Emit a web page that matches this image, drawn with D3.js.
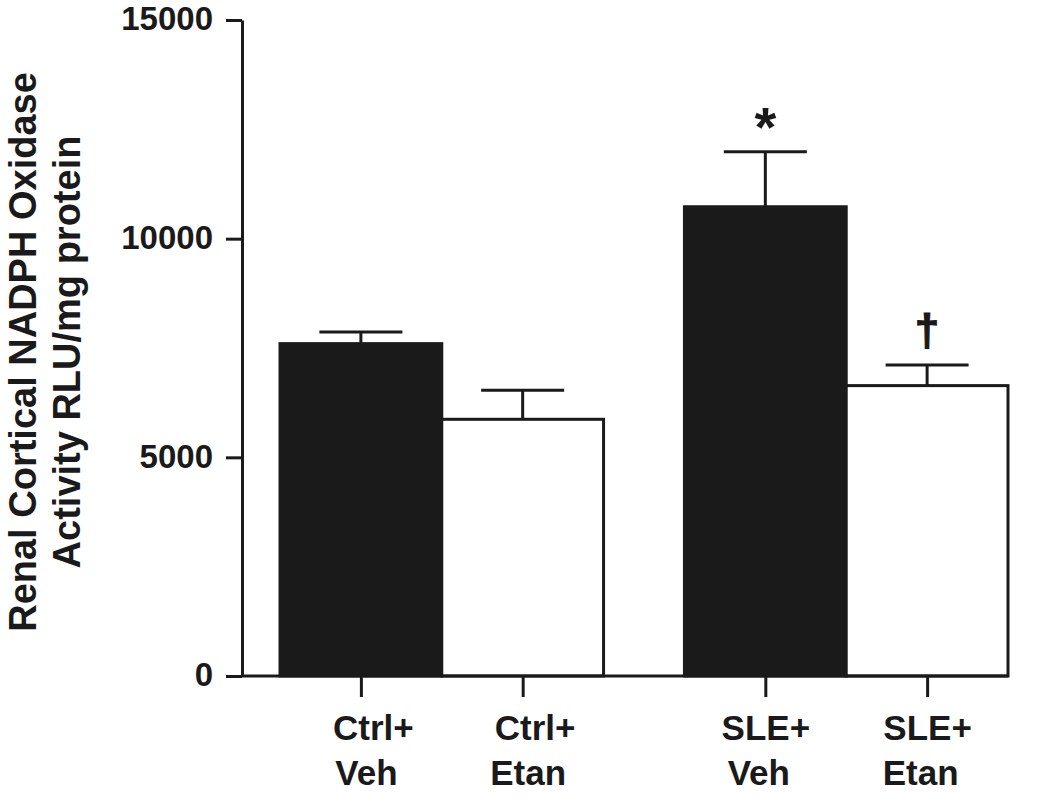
<!DOCTYPE html>
<html>
<head>
<meta charset="utf-8">
<script src="https://cdn.jsdelivr.net/npm/d3@7"></script>
<style>
  html, body { margin: 0; padding: 0; background: #fff; }
  svg { display: block; }
  text { font-family: "Liberation Sans", Arial, Helvetica, sans-serif; font-weight: bold; fill: #1a1a1a; }
</style>
</head>
<body>
<svg id="chart" width="1050" height="799"></svg>
<script>
// ---- data ----
const groups = ["Ctrl", "SLE"];
const treatments = ["Veh", "Etan"];
const categories = ["Ctrl+Veh", "Ctrl+Etan", "SLE+Veh", "SLE+Etan"];
const means = [7600, 5870, 10730, 6640];
const sems = [265, 665, 1260, 470];
const markers = ["", "", "*", "\u2020"];
const yTicks = [0, 5000, 10000, 15000];
const yTitle = ["Renal Cortical NADPH Oxidase", "Activity RLU/mg protein"];

const rows = categories.map((c, i) => {
  const [g, t] = c.split("+");
  return { cat: c, group: g, treat: t, mean: means[i], sem: sems[i], mark: markers[i] };
});

// ---- layout ----
const svg = d3.select("#chart");
const ink = "#1a1a1a";
const axisX = 242, y0 = 676, yTop = 20;
const plotLeft = 280, plotRight = 1008;

const y = d3.scaleLinear().domain([0, 15000]).range([y0, yTop]);
const xOuter = d3.scaleBand().domain(groups).range([plotLeft, plotRight]).paddingInner(0.2).paddingOuter(0);
const xInner = d3.scaleBand().domain(treatments).range([0, xOuter.bandwidth()]).padding(0);
const xLeft = d => xOuter(d.group) + xInner(d.treat);
const xCenter = d => xLeft(d) + xInner.bandwidth() / 2;
const xAxisScale = d3.scaleOrdinal().domain(categories).range(rows.map(xCenter));

// ---- bars ----
svg.append("g").selectAll("rect").data(rows).join("rect")
  .attr("x", d => xLeft(d))
  .attr("y", d => y(d.mean))
  .attr("width", xInner.bandwidth())
  .attr("height", d => y(0) - y(d.mean))
  .attr("fill", d => d.treat === "Veh" ? ink : "#ffffff")
  .attr("stroke", ink)
  .attr("stroke-width", 3);

// ---- error bars ----
const capHalf = 41.5;
const eb = svg.append("g").attr("stroke", ink).attr("stroke-width", 3);
eb.selectAll("line.v").data(rows).join("line").attr("class", "v")
  .attr("x1", xCenter).attr("x2", xCenter)
  .attr("y1", d => y(d.mean)).attr("y2", d => y(d.mean + d.sem));
eb.selectAll("line.c").data(rows).join("line").attr("class", "c")
  .attr("x1", d => xCenter(d) - capHalf).attr("x2", d => xCenter(d) + capHalf)
  .attr("y1", d => y(d.mean + d.sem)).attr("y2", d => y(d.mean + d.sem));

// ---- significance markers ----
svg.append("g").selectAll("text").data(rows.filter(d => d.mark)).join("text")
  .attr("x", xCenter)
  .attr("y", d => d.mark === "*" ? y(d.mean + d.sem) - 6 : y(d.mean + d.sem) - 20)
  .attr("text-anchor", "middle")
  .attr("font-size", d => d.mark === "*" ? 56 : 44)
  .attr("stroke", d => d.mark === "*" ? "none" : ink)
  .attr("stroke-width", 1.2)
  .text(d => d.mark);

// ---- y axis ----
const yAxis = svg.append("g").attr("transform", `translate(${axisX},0)`)
  .call(d3.axisLeft(y).tickValues(yTicks).tickFormat(d3.format("d")).tickSize(16).tickSizeOuter(0).tickPadding(13));
yAxis.attr("font-family", null);
yAxis.select(".domain").attr("stroke", ink).attr("stroke-width", 3);
yAxis.selectAll(".tick line").attr("stroke", ink).attr("stroke-width", 3);
yAxis.selectAll(".tick text").attr("font-size", 33).attr("fill", ink).attr("dy", "0.3em");

// ---- x axis ----
const labelShift = { Ctrl: 12, SLE: 0 };
const xAxis = svg.append("g").attr("transform", `translate(0,${y0})`)
  .call(d3.axisBottom(xAxisScale).tickSize(21).tickSizeOuter(0));
xAxis.attr("font-family", null);
xAxis.select(".domain").remove();
xAxis.append("line").attr("x1", axisX).attr("x2", plotRight).attr("y1", 0).attr("y2", 0)
  .attr("stroke", ink).attr("stroke-width", 3);
xAxis.selectAll(".tick line").attr("stroke", ink).attr("stroke-width", 3);
xAxis.selectAll(".tick text").each(function(c) {
  const [g, t] = c.split("+");
  const txt = d3.select(this).text(null).attr("y", null).attr("dy", null)
    .attr("font-size", 35).attr("fill", ink).attr("text-anchor", "middle");
  txt.append("tspan").attr("x", labelShift[g]).attr("y", 64).text(g + "+");
  txt.append("tspan").attr("x", labelShift[g] - 7).attr("y", 109).text(t);
});

// ---- y title ----
const yt = svg.append("text").attr("transform", `translate(0,${(y0 + yTop) / 2 + 4}) rotate(-90)`)
  .attr("text-anchor", "middle").attr("font-size", 38);
yt.append("tspan").attr("x", 0).attr("y", 36).text(yTitle[0]);
yt.append("tspan").attr("x", 0).attr("y", 80).text(yTitle[1]);
</script>
</body>
</html>
